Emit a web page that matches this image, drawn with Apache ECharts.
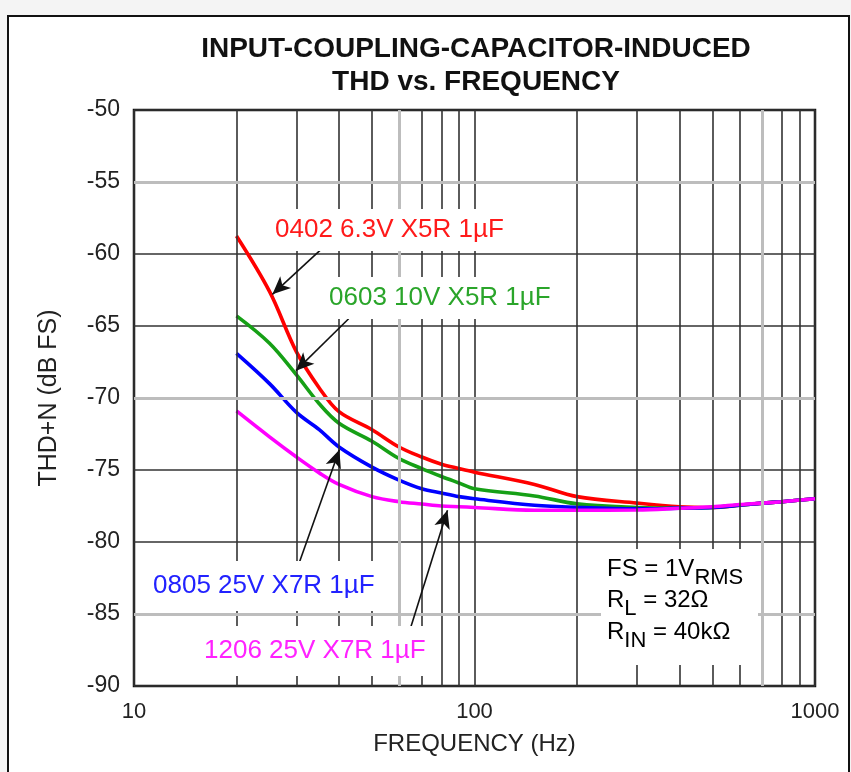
<!DOCTYPE html>
<html><head><meta charset="utf-8">
<script src="https://cdn.jsdelivr.net/npm/echarts@6/dist/echarts.min.js"></script>
<style>html,body{margin:0;padding:0;background:#f4f4f4;}#c{width:851px;height:772px;}</style>
</head><body><div id="c"></div>
<script>
// ---- data ----
const freqs   = [20, 25, 30, 35, 40, 50, 60, 70, 80, 90, 100, 150, 200, 300, 400, 500, 600, 700, 800, 1000];
const thd0402 = [-58.75, -62.6, -66.8, -69.3, -70.95, -72.2, -73.4, -74.1, -74.6, -74.9, -75.15, -76.0, -76.85, -77.3, -77.55, -77.6, -77.45, -77.3, -77.2, -77.0];
const thd0603 = [-64.3, -66.2, -68.4, -70.4, -71.75, -73.0, -74.2, -74.9, -75.45, -75.9, -76.3, -76.8, -77.35, -77.6, -77.65, -77.6, -77.45, -77.3, -77.2, -77.0];
const thd0805 = [-66.9, -69.0, -71.0, -72.2, -73.4, -74.8, -75.7, -76.3, -76.6, -76.85, -77.0, -77.45, -77.6, -77.7, -77.65, -77.6, -77.45, -77.3, -77.2, -77.0];
const thd1206 = [-70.9, -72.7, -74.1, -75.2, -76.0, -76.85, -77.2, -77.36, -77.5, -77.55, -77.6, -77.8, -77.8, -77.78, -77.66, -77.55, -77.4, -77.3, -77.2, -77.0];
const seriesNames = ['0402 6.3V X5R 1\u00b5F', '0603 10V X5R 1\u00b5F', '0805 25V X7R 1\u00b5F', '1206 25V X7R 1\u00b5F'];
const yMin = -90, yMax = -50, yStep = 5;
const xMin = 10, xMax = 1000;
const minorFreqs = [20, 30, 40, 50, 60, 70, 80, 90, 200, 300, 400, 500, 600, 700, 800, 900];
const greyFreqs = [60, 700];
const greyLevels = [-55, -70, -85];
// arrow annotations: [from, to] in (Hz, dB)
const arrowRed     = [[36.9, -59.3], [25.5, -62.8]];
const arrowGreen   = [[42.7, -64.5], [29.9, -68.1]];
const arrowBlue    = [[30.4, -81.6], [40.1, -73.6]];
const arrowMagenta = [[64.8, -86.0], [83.3, -77.8]];

// ---- chart ----
const FONT = 'Liberation Sans, Arial, sans-serif';
const colors = ['#ff0000', '#16a016', '#0000ff', '#ff00ff'];
const textColors = ['#ff1a1a', '#2aa52a', '#2222ff', '#ff22ff'];
const chart = echarts.init(document.getElementById('c'), null, {renderer: 'canvas'});

function pair(a, b) { return freqs.map((f, i) => [f, b[i]]); }
const curves = [thd0402, thd0603, thd0805, thd1206];

const series = [];
series.push({
  type: 'line', data: [], silent: true, z: 1,
  markLine: {
    silent: true, symbol: ['none', 'none'], animation: false,
    label: {show: false},
    lineStyle: {color: '#333', width: 1.6, type: 'solid'},
    emphasis: {disabled: true},
    data: minorFreqs.map(f => ({xAxis: f}))
  }
});
series.push({
  type: 'line', data: [], silent: true, z: 1,
  markLine: {
    silent: true, symbol: ['none', 'none'], animation: false,
    label: {show: false},
    lineStyle: {color: '#bdbdbd', width: 3, type: 'solid'},
    emphasis: {disabled: true},
    data: greyFreqs.map(f => ({xAxis: f})).concat(greyLevels.map(v => ({yAxis: v})))
  }
});
curves.forEach((c, i) => {
  series.push({
    name: seriesNames[i], type: 'line', data: pair(freqs, c),
    showSymbol: false, smooth: 0.35, z: 3,
    lineStyle: {color: colors[i], width: 3.6},
    itemStyle: {color: colors[i]},
    animation: false
  });
});
series.push({
  type: 'line', data: [], silent: true, z: 60,
  markLine: {
    silent: true, symbol: ['none', 'arrow'], symbolSize: [12, 18], animation: false,
    label: {show: false},
    lineStyle: {color: '#111', width: 1.6, type: 'solid'},
    itemStyle: {color: '#111'},
    emphasis: {disabled: true},
    data: [arrowRed, arrowGreen, arrowBlue, arrowMagenta].map(a => [{coord: a[0]}, {coord: a[1]}])
  }
});

function label(text, x, y, color, pad) {
  return {
    type: 'text', x: x, y: y, z: 50,
    style: {
      text: text, fill: color, font: '26px ' + FONT,
      align: 'left', verticalAlign: 'middle',
      backgroundColor: '#ffffff', padding: pad
    }
  };
}
const nrm = {fontSize: 24, fontFamily: FONT, color: '#222', lineHeight: 31, verticalAlign: 'top'};
const sub = {fontSize: 22, fontFamily: FONT, color: '#222', lineHeight: 22, padding: [10, 0, 0, 0], verticalAlign: 'top'};
function boxLine(text, y) {
  return {
    type: 'text', x: 607, y: y, z: 50,
    style: {text: text, rich: {n: nrm, s: sub}, align: 'left', verticalAlign: 'top'}
  };
}

chart.setOption({
  animation: false,
  backgroundColor: 'transparent',
  title: {
    text: 'INPUT-COUPLING-CAPACITOR-INDUCED\nTHD vs. FREQUENCY',
    left: 471, top: 28, textAlign: 'center',
    textStyle: {fontFamily: FONT, fontWeight: 'bold', fontSize: 28, lineHeight: 33, color: '#111'}
  },
  grid: {left: 134, right: 36, top: 110, bottom: 86, show: true, borderColor: '#111', borderWidth: 2.5, backgroundColor: 'transparent'},
  xAxis: {
    type: 'log', logBase: 10, min: xMin, max: xMax,
    name: 'FREQUENCY (Hz)', nameLocation: 'middle', nameGap: 46,
    nameTextStyle: {fontFamily: FONT, fontSize: 24, color: '#222'},
    axisLine: {show: false}, axisTick: {show: false},
    axisLabel: {fontFamily: FONT, fontSize: 22, color: '#222', margin: 15, formatter: v => String(v)},
    splitLine: {show: true, lineStyle: {color: '#333', width: 1.6}}
  },
  yAxis: {
    type: 'value', min: yMin, max: yMax, interval: yStep,
    name: 'THD+N (dB FS)', nameLocation: 'middle', nameGap: 72, nameRotate: 90,
    nameTextStyle: {fontFamily: FONT, fontSize: 25, color: '#222'},
    axisLine: {show: false}, axisTick: {show: false},
    axisLabel: {fontFamily: FONT, fontSize: 23, color: '#222', margin: 14},
    splitLine: {show: true, lineStyle: {color: '#333', width: 1.6}}
  },
  series: series,
  graphic: [
    {type: 'rect', z: -10, shape: {x: 8, y: 16, width: 841, height: 800}, style: {fill: '#fff', stroke: '#111', lineWidth: 2}},
    {type: 'rect', z: 40, shape: {x: 601, y: 549, width: 157, height: 116}, style: {fill: '#fff'}},
    label(seriesNames[0], 272, 230, textColors[0], [7, 3, 9, 3]),
    label(seriesNames[1], 326, 298, textColors[1], [7, 3, 9, 3]),
    label(seriesNames[2], 150, 586, textColors[2], [12, 3, 12, 3]),
    label(seriesNames[3], 201, 651, textColors[3], [12, 3, 12, 3]),
    boxLine('{n|FS = 1V}{s|RMS}', 557),
    boxLine('{n|R}{s|L}{n| = 32\u03a9}', 588),
    boxLine('{n|R}{s|IN}{n| = 40k\u03a9}', 620)
  ]
});
</script></body></html>
